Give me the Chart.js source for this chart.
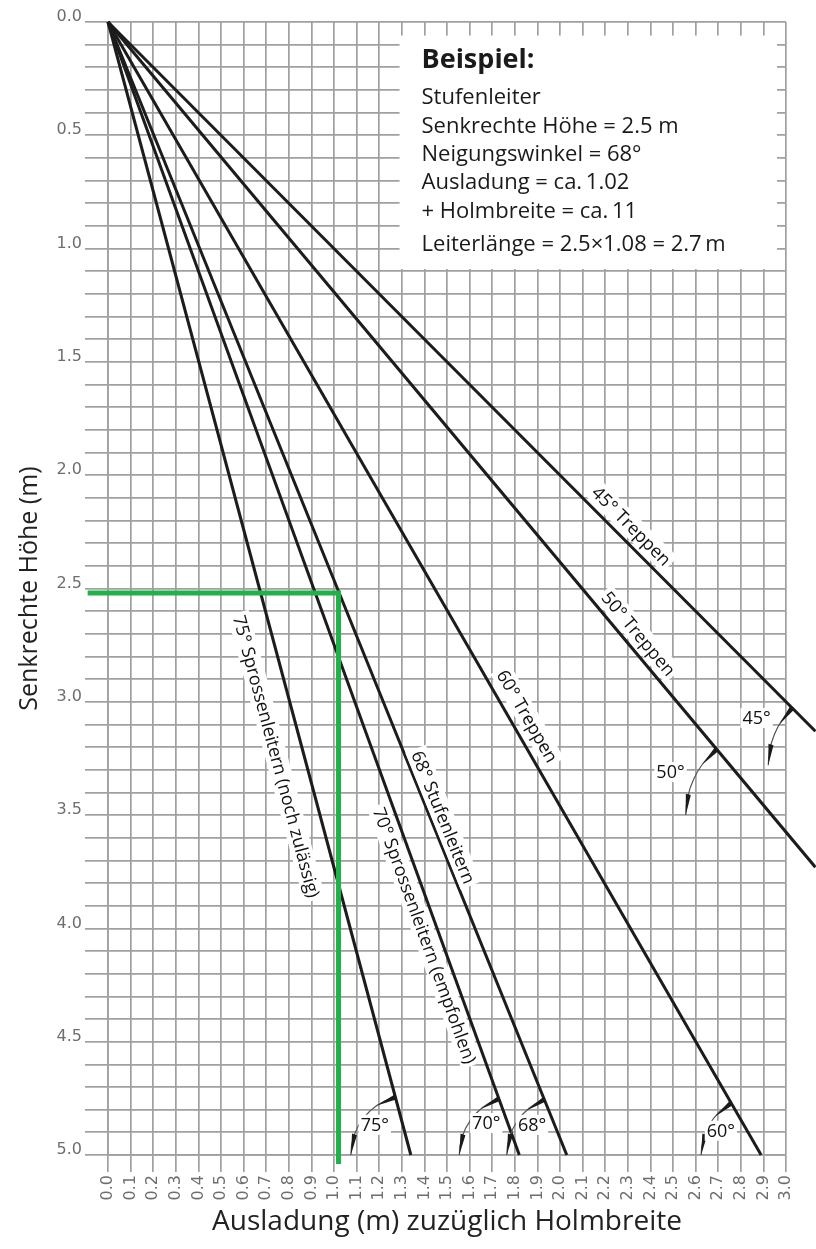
<!DOCTYPE html>
<html>
<head>
<meta charset="utf-8">
<script src="https://cdn.jsdelivr.net/npm/chart.js@4/dist/chart.umd.min.js"></script>
<style>
  html, body { margin: 0; padding: 0; background: #fff; }
</style>
</head>
<body>
<canvas id="leiterChart" width="816" height="1249"></canvas>
<script>
// Neigungswinkel der Linien und ihre Endpunkte (m)
const angles = [45, 50, 60, 68, 70, 75];
const endX = [3.13, 3.13, 2.89, 2.03, 1.82, 1.34];
const endY = [3.13, 3.73, 5.0, 5.0, 5.0, 5.0];
const lineLabels = ['45° Treppen', '50° Treppen', '60° Treppen', '68° Stufenleitern',
                    '70° Sprossenleitern (empfohlen)', '75° Sprossenleitern (noch zulässig)'];
// Höhe (m) an der die Beschriftung an der Linie sitzt
const labelAtY = [2.27, 2.74, 3.10, 3.53, 4.01, 3.21];
// Höhe (m) des Winkelbogen-Mittelpunkts auf der Linie
const arcAtY = [3.28, 3.5, 5.0, 5.0, 5.0, 5.0];
// Beispiel: 2.5 m Höhe -> Ausladung ca. 1.02
const beispielX = [-0.09, 1.02, 1.02];
const beispielY = [2.52, 2.52, 5.04];
const boxTitle = 'Beispiel:';
const boxLines = ['Stufenleiter', 'Senkrechte Höhe = 2.5 m', 'Neigungswinkel = 68°',
                  'Ausladung = ca.\u20091.02', '+ Holmbreite = ca.\u200911', 'Leiterlänge = 2.5×1.08 = 2.7\u2009m'];
const boxX = [1.29, 2.96];
const boxY = [0.06, 1.09];

const gridColor = '#a0a0a0';
const tickColor = '#6e6e6e';

// Layout-Konstanten für die Annotationen (px)
const labelOffset = [14.6, 14.1, 16.5, 12.2, -14.1, -27];
const arcR = [81, 86, 60, 60, 60, 60];
const arcLabelR = [104, 110, 47, 46, 46, 47];
const arcLabelAng = [207, 203, 211, 221, 224, 220];

const overlay = {
    id: 'overlay',
    beforeDatasetsDraw(chart) {
        const {ctx, scales: {x, y}} = chart;
        const l = x.getPixelForValue(boxX[0]), r = x.getPixelForValue(boxX[1]);
        const t = y.getPixelForValue(boxY[0]), b = y.getPixelForValue(boxY[1]);
        ctx.save();
        ctx.fillStyle = '#fff';
        ctx.fillRect(l, t, r - l, b - t);
        ctx.fillStyle = '#1a1a1a';
        ctx.textBaseline = 'alphabetic';
        ctx.font = 'bold 27px "Open Sans"';
        ctx.fillText(boxTitle, l + 22, t + 32);
        ctx.font = '22px "Open Sans"';
        const offs = [68, 97, 125, 153, 182, 215];
        boxLines.forEach((s, i) => ctx.fillText(s, l + 22, t + offs[i]));
        ctx.restore();
    },
    afterDatasetsDraw(chart) {
        const {ctx, scales: {x, y}} = chart;
        const ox = x.getPixelForValue(0), oy = y.getPixelForValue(0);
        ctx.save();
        // Beschriftung entlang der Linien
        lineLabels.forEach((txt, i) => {
            const px = x.getPixelForValue(endX[i]), py = y.getPixelForValue(endY[i]);
            const th = Math.atan2(py - oy, px - ox);
            const fy = labelAtY[i], fx = fy * endX[i] / endY[i];
            ctx.save();
            ctx.translate(x.getPixelForValue(fx), y.getPixelForValue(fy));
            ctx.rotate(th);
            ctx.font = '18px "Open Sans"';
            const w = ctx.measureText(txt).width;
            const off = -labelOffset[i];
            ctx.fillStyle = '#fff';
            ctx.fillRect(-w / 2 - 3, off - 11, w + 6, 22);
            ctx.fillStyle = '#111';
            ctx.textAlign = 'center';
            ctx.textBaseline = 'middle';
            ctx.fillText(txt, 0, off + 1);
            ctx.restore();
        });
        // Winkelbögen
        angles.forEach((a, i) => {
            const px = x.getPixelForValue(endX[i]), py = y.getPixelForValue(endY[i]);
            const th = Math.atan2(py - oy, px - ox);
            const cyv = arcAtY[i], cxv = cyv * endX[i] / endY[i];
            const cx = x.getPixelForValue(cxv), cy = y.getPixelForValue(cyv);
            const rad = arcR[i];
            const a0 = Math.PI, a1 = Math.PI + th;
            ctx.strokeStyle = '#555';
            ctx.lineWidth = 1.2;
            ctx.beginPath();
            ctx.arc(cx, cy, rad, a0, a1);
            ctx.stroke();
            const dw = 21 / rad;
            const wedge = (tipA, baseA) => {
                ctx.beginPath();
                ctx.moveTo(cx + rad * Math.cos(tipA), cy + rad * Math.sin(tipA));
                ctx.lineTo(cx + (rad + 2.6) * Math.cos(baseA), cy + (rad + 2.6) * Math.sin(baseA));
                ctx.lineTo(cx + (rad - 2.6) * Math.cos(baseA), cy + (rad - 2.6) * Math.sin(baseA));
                ctx.closePath();
                ctx.fillStyle = '#1a1a1a';
                ctx.fill();
            };
            wedge(a0, a0 + dw);
            wedge(a1 - dw, a1);
            const la = arcLabelAng[i] * Math.PI / 180;
            const lx = cx + arcLabelR[i] * Math.cos(la), ly = cy + arcLabelR[i] * Math.sin(la);
            const txt = a + '°';
            ctx.font = '18px "Open Sans"';
            const w = ctx.measureText(txt).width;
            ctx.fillStyle = '#fff';
            ctx.fillRect(lx - w / 2 - 2, ly - 10, w + 4, 20);
            ctx.fillStyle = '#111';
            ctx.textAlign = 'center';
            ctx.textBaseline = 'middle';
            ctx.fillText(txt, lx, ly + 1);
        });
        ctx.restore();
    }
};

const datasets = [{
    data: beispielX.map((v, i) => ({x: v, y: beispielY[i]})),
    showLine: true, borderColor: '#22b04a', borderWidth: 5, pointRadius: 0,
    borderCapStyle: 'butt', borderJoinStyle: 'miter', clip: false
}];
angles.forEach((a, i) => {
    datasets.push({
        data: [{x: 0, y: 0}, {x: endX[i], y: endY[i]}],
        showLine: true, borderColor: '#1c1c1c', borderWidth: 3, pointRadius: 0, clip: false
    });
});

const ctx = document.getElementById('leiterChart').getContext('2d');
const chart = new Chart(ctx, {
    type: 'scatter',
    data: { datasets },
    options: {
        responsive: false,
        animation: false,
        layout: { padding: { top: 22, right: 30, left: 0, bottom: 0 } },
        plugins: { legend: { display: false }, tooltip: { enabled: false } },
        scales: {
            x: {
                type: 'linear', min: 0, max: 3,
                ticks: {
                    stepSize: 0.1, autoSkip: false, minRotation: 90, maxRotation: 90,
                    color: tickColor, font: { family: 'DejaVu Sans', size: 16 }, padding: 3,
                    callback: v => v.toFixed(1)
                },
                grid: { color: gridColor, lineWidth: 1.7, tickLength: 17 },
                border: { color: gridColor, width: 1.7 },
                title: {
                    display: true, text: 'Ausladung (m) zuzüglich Holmbreite', color: '#222',
                    font: { family: 'Open Sans', size: 28 }, padding: { top: 0, bottom: 10 }
                },
                afterFit: s => { s.height = 94; }
            },
            y: {
                type: 'linear', min: 0, max: 5, reverse: true,
                ticks: {
                    stepSize: 0.1, autoSkip: false, labelOffset: -5, padding: 3,
                    color: tickColor, font: { family: 'DejaVu Sans', size: 16 },
                    callback: v => Math.abs(v * 2 - Math.round(v * 2)) < 1e-6 ? v.toFixed(1) : ''
                },
                grid: { color: gridColor, lineWidth: 1.7, tickLength: 23 },
                border: { color: gridColor, width: 1.7 },
                title: {
                    display: true, text: 'Senkrechte Höhe (m)', color: '#222',
                    font: { family: 'Open Sans', size: 25 }, padding: { top: 15, bottom: 0 }
                },
                afterFit: s => { s.width = 108; }
            }
        }
    },
    plugins: [overlay]
});
</script>
</body>
</html>
